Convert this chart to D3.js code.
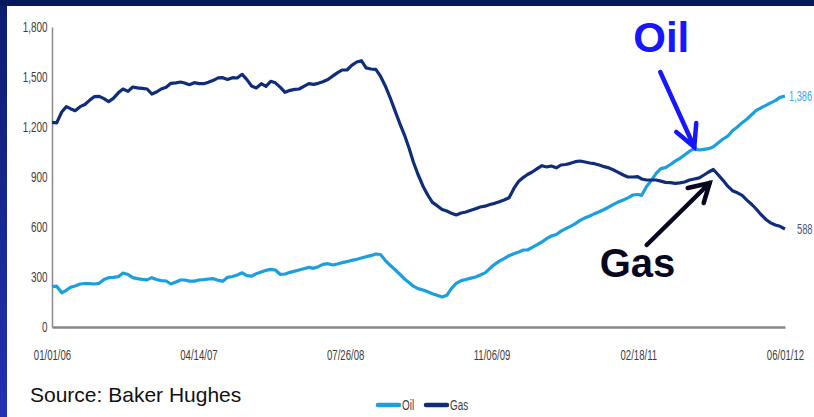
<!DOCTYPE html>
<html>
<head>
<meta charset="utf-8">
<script src="https://cdn.jsdelivr.net/npm/d3@7"></script>
<style>
  html, body { margin: 0; padding: 0; background: #fff; }
  svg { display: block; font-family: "Liberation Sans", Arial, sans-serif; }
  .narrow { font-family: "Liberation Sans", Arial, sans-serif; }
</style>
</head>
<body>
<script>
// US rig counts, semi-monthly readings (1st and 16th of each month), Jan 2006 – Jun 2012
const seriesNames = ["Oil", "Gas"];
const xTickLabels = ["01/01/06", "04/14/07", "07/26/08", "11/06/09", "02/18/11", "06/01/12"];
const yTickValues = [0, 300, 600, 900, 1200, 1500, 1800];

const oil = [
  242, 245, 205, 220, 238, 246, 258, 261, 260, 258,
  262, 285, 296, 298, 302, 324, 315, 296, 290, 286,
  283, 296, 285, 278, 276, 258, 270, 282, 282, 275,
  275, 282, 284, 288, 290, 280, 275, 298, 303, 312,
  325, 308, 305, 320, 330, 340, 346, 342, 315, 318,
  328, 335, 342, 350, 358, 352, 362, 376, 380, 372,
  378, 386, 392, 400, 406, 414, 422, 428, 438, 435,
  400, 372, 345, 318, 288, 266, 245, 230, 222, 212,
  200, 190, 180, 190, 232, 262, 278, 285, 293, 300,
  312, 325, 352, 376, 395, 410, 428, 440, 450, 462,
  462, 478, 494, 510, 530, 546, 555, 575, 590, 604,
  620, 640, 655, 666, 680, 692, 705, 720, 736, 750,
  762, 775, 792, 795, 790, 842, 880, 922, 950, 956,
  975, 995, 1012, 1032, 1055, 1070, 1062, 1066, 1070, 1082,
  1105, 1128, 1145, 1178, 1200, 1226, 1248, 1275, 1300, 1315,
  1330, 1345, 1358, 1378, 1386
];

const gas = [
  1228, 1225, 1290, 1322, 1310, 1298, 1322, 1335, 1360, 1382,
  1384, 1370, 1352, 1372, 1405, 1428, 1414, 1440, 1435, 1432,
  1428, 1398, 1410, 1428, 1438, 1462, 1465, 1470, 1464, 1454,
  1466, 1460, 1460, 1468, 1480, 1495, 1496, 1485, 1496, 1494,
  1516, 1484, 1446, 1434, 1460, 1444, 1474, 1465, 1438, 1408,
  1420, 1426, 1428, 1444, 1460, 1456, 1462, 1472, 1485, 1505,
  1525, 1542, 1542, 1570, 1590, 1598, 1555, 1548, 1546, 1505,
  1448, 1380, 1300, 1225, 1150, 1070, 990, 915, 845, 792,
  748, 728, 705, 696, 682, 672, 684, 690, 700, 710,
  720, 725, 735, 742, 752, 762, 775, 830, 875, 898,
  915, 930, 950, 968, 960, 966, 955, 972, 975, 982,
  992, 996, 990, 984, 980, 972, 962, 955, 942, 928,
  912, 900, 900, 902, 888, 882, 882, 882, 875, 868,
  866, 862, 865, 870, 882, 888, 895, 912, 930, 945,
  912, 880, 845, 818, 805, 790, 760, 735, 708, 675,
  645, 625, 612, 604, 588
];

// observation dates: 1st and 16th of every month
const dates = oil.map((_, k) => new Date(2006, Math.floor(k / 2), k % 2 ? 16 : 1));

const colors = { Oil: "#1c9fdf", Gas: "#0f2d7a" };

const W = 814, H = 417;
const svg = d3.select("body").append("svg").attr("width", W).attr("height", H);

// slide frame: dark band on top, blue band on the left
const defs = svg.append("defs");
const grad = defs.append("linearGradient").attr("id", "sideBand")
  .attr("x1", 0).attr("y1", 0).attr("x2", 0).attr("y2", 1);
grad.append("stop").attr("offset", "0%").attr("stop-color", "#0c1c6c");
grad.append("stop").attr("offset", "100%").attr("stop-color", "#2232b2");
svg.append("rect").attr("x", 0).attr("y", 0).attr("width", W).attr("height", H).attr("fill", "#fff");
svg.append("rect").attr("x", 0).attr("y", 0).attr("width", 7).attr("height", H).attr("fill", "url(#sideBand)");
svg.append("rect").attr("x", 0).attr("y", 0).attr("width", W).attr("height", 6).attr("fill", "#04185a");

const parse = d3.timeParse("%m/%d/%y");
const fmt = d3.timeFormat("%m/%d/%y");
const xTicks = xTickLabels.map(parse);

const x = d3.scaleTime().domain([xTicks[0], xTicks[xTicks.length - 1]]).range([52, 785]);
const y = d3.scaleLinear().domain([0, 1800]).range([327, 27]);

// condensed look for the small chart texts
const squeeze = 0.66;
const smallSize = 15;
const smallFill = "#3e3e3e";

// y axis
const gy = svg.append("g").attr("transform", `translate(${x.range()[0]},0)`)
  .call(d3.axisLeft(y).tickValues(yTickValues).tickFormat(d3.format(",")).tickSize(0).tickSizeOuter(0).tickPadding(7));
gy.select(".domain").attr("stroke", "#8c8c8c").attr("stroke-width", 1.5);
gy.selectAll("text").attr("class", "narrow").attr("font-size", smallSize).attr("fill", smallFill)
  .attr("transform", `scale(${squeeze},1)`);

// x axis
const gx = svg.append("g").attr("transform", `translate(0,${y(0)})`)
  .call(d3.axisBottom(x).tickValues(xTicks).tickFormat(fmt).tickSize(0).tickSizeOuter(0).tickPadding(22));
gx.select(".domain").attr("stroke", "#878787").attr("stroke-width", 2.6);
gx.selectAll("text").attr("class", "narrow").attr("font-size", smallSize).attr("fill", smallFill)
  .attr("transform", `scale(${squeeze - 0.02},1)`);

// series lines
const line = d3.line().x((d, i) => x(dates[i])).y(d => y(d));
const series = { Oil: oil, Gas: gas };
seriesNames.forEach(name => {
  svg.append("path").datum(series[name])
    .attr("fill", "none").attr("stroke", colors[name]).attr("stroke-width", 3.2)
    .attr("stroke-linejoin", "round").attr("d", line);
});

// last-value labels
const lastIdx = dates.length - 1;
const endLabelColors = { Oil: "#3aaae6", Gas: "#475482" };
seriesNames.forEach(name => {
  const v = series[name][lastIdx];
  const dx = name === "Oil" ? 4 : 12;
  svg.append("text").attr("class", "narrow")
    .attr("transform", `translate(${x(dates[lastIdx]) + dx},${y(v) + 5}) scale(${squeeze},1)`)
    .attr("font-size", 14).attr("fill", endLabelColors[name])
    .text(d3.format(",")(v));
});

// callouts pointing at each series
const callouts = [
  { label: "Oil", date: "08/16/11", value: 1080, color: "#1616ff", size: 42,
    tail: [-34, -75], arms: [[-18, -15], [2, -24]], text: [-61, -95] },
  { label: "Gas", date: "10/01/11", value: 864, color: "#07081f", size: 40,
    tail: [-63, 62], arms: [[-22, 5], [-6, 20]], text: [-110, 94] }
];
callouts.forEach(c => {
  const tx = x(parse(c.date)) + (c.label === "Gas" ? 1 : 0);
  const ty = y(c.value);
  const g = svg.append("g").attr("transform", `translate(${tx},${ty})`);
  g.append("line").attr("x1", c.tail[0]).attr("y1", c.tail[1]).attr("x2", 0).attr("y2", 0)
    .attr("stroke", c.color).attr("stroke-width", 4.5).attr("stroke-linecap", "round");
  g.append("path").attr("d", `M${c.arms[0][0]},${c.arms[0][1]}L0,0L${c.arms[1][0]},${c.arms[1][1]}`)
    .attr("fill", "none").attr("stroke", c.color).attr("stroke-width", 4.5)
    .attr("stroke-linecap", "round").attr("stroke-linejoin", "miter");
  g.append("text").attr("x", c.text[0]).attr("y", c.text[1])
    .attr("font-size", c.size).attr("font-weight", "bold").attr("fill", c.color)
    .text(c.label);
});

// source note
svg.append("text").attr("x", 30).attr("y", 402).attr("font-size", 21).attr("fill", "#111")
  .text("Source: Baker Hughes");

// legend
const legend = svg.append("g").attr("transform", "translate(377,405)");
seriesNames.forEach((name, i) => {
  const g = legend.append("g").attr("transform", `translate(${i * 48},0)`);
  g.append("line").attr("x1", 1).attr("x2", 22).attr("y1", 0).attr("y2", 0)
    .attr("stroke", colors[name]).attr("stroke-width", 4.5).attr("stroke-linecap", "round");
  g.append("text").attr("class", "narrow").attr("transform", `translate(25,5) scale(${squeeze},1)`)
    .attr("font-size", smallSize).attr("fill", smallFill).text(name);
});
</script>
</body>
</html>
